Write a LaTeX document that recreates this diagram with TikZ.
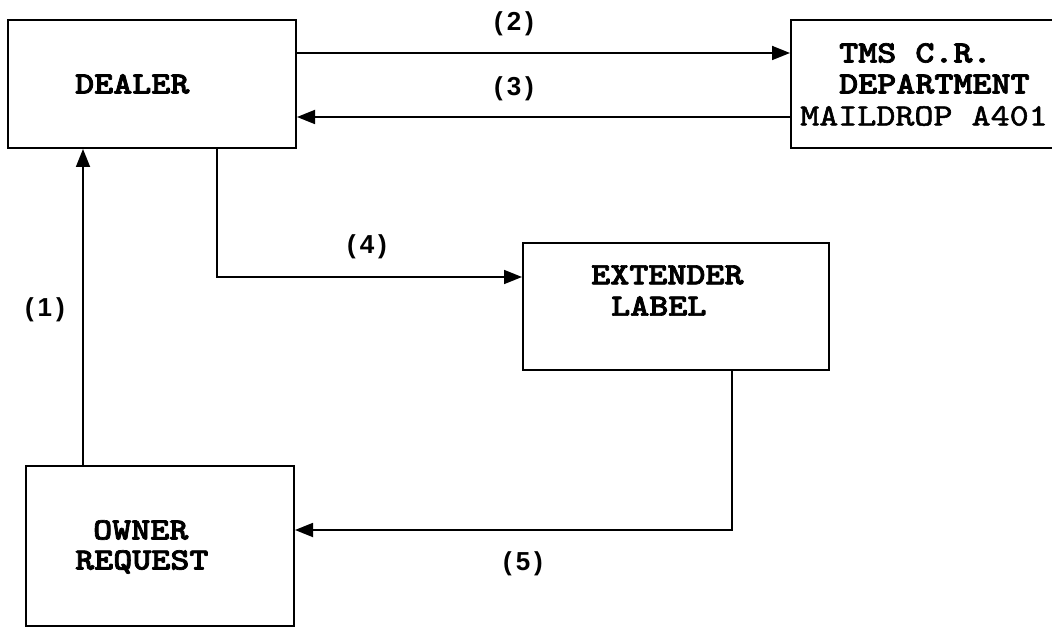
\documentclass[tikz,border=0pt]{standalone}
\usepackage{graphicx}
\usepackage{fontspec}
\usetikzlibrary{arrows.meta,calc}
\newfontfamily\courb[FakeBold=2.2]{lmmonolt10-bold.otf}
\newfontfamily\courm[FakeBold=1.6]{lmmono10-regular.otf}
\newfontfamily\labfont{Liberation Sans}
\newcommand{\mono}[1]{\scalebox{1.17}[1]{\fontsize{31}{31}\selectfont\courb #1}}
\newcommand{\monolt}[1]{\scalebox{1.17}[1]{\fontsize{31}{31}\selectfont\courm #1}}
\newcommand{\lbl}[1]{{\fontsize{26}{26}\selectfont\labfont\bfseries (\hspace{4pt}#1\hspace{4pt})}}
\tikzset{
  boxnode/.style={draw, line width=2pt, inner sep=0pt, rectangle},
  txt/.style={anchor=west, inner sep=0pt},
  lab/.style={inner sep=0pt},
  arr/.style={line width=1.8pt, -{Triangle[length=18pt,width=14pt]}},
}
\begin{document}
\begin{tikzpicture}[x=1pt,y=-1pt]
\clip (0,0) rectangle (1052,628);
\fill[white] (0,0) rectangle (1052,628);
% boxes
\node[boxnode, minimum width=288pt, minimum height=128pt] (dealer) at (152,84) {};
\node[boxnode, minimum width=309pt, minimum height=128pt] (tms) at (945.5,84) {};
\node[boxnode, minimum width=306pt, minimum height=127pt] (ext) at (676,306.5) {};
\node[boxnode, minimum width=268pt, minimum height=160pt] (owner) at (160,546) {};
% texts
\node[txt] (dealertxt) at (75,84) {\mono{DEALER}};
\node[txt] (tms1) at (839,53) {\mono{TMS C.R.}};
\node[txt] (tms2) at (839,84) {\mono{DEPARTMENT}};
\node[txt] (tms3) at (800,116) {\monolt{MAILDROP A401}};
\node[txt] (ext1) at (591,275) {\mono{EXTENDER}};
\node[txt] (ext2) at (611,306) {\mono{LABEL}};
\node[txt] (own1) at (93,530) {\mono{OWNER}};
\node[txt] (own2) at (75,562) {\mono{REQUEST}};
% connectors
\coordinate (a1) at ($(owner.north west)+(58,0)$);
\draw[arr] (a1) -- (a1 |- dealer.south);
\draw[arr] ([yshift=31pt]dealer.east) -- ([yshift=31pt]dealer.east -| tms.west);
\draw[arr] ([yshift=-33pt]tms.west) -- ([yshift=-33pt]tms.west -| dealer.east);
\coordinate (a4) at ($(dealer.south west)+(210,0)$);
\draw[arr] (a4) |- ([yshift=29.5pt]ext.west);
\coordinate (a5) at ($(ext.south west)+(210,0)$);
\draw[arr] (a5) |- ([yshift=16pt]owner.east);
% labels
\node[lab] (l1) at (45,310) {\lbl{1}};
\node[lab] (l2) at (514,24) {\lbl{2}};
\node[lab] (l3) at (514,89) {\lbl{3}};
\node[lab] (l4) at (367,247) {\lbl{4}};
\node[lab] (l5) at (523,564) {\lbl{5}};
\end{tikzpicture}
\end{document}
